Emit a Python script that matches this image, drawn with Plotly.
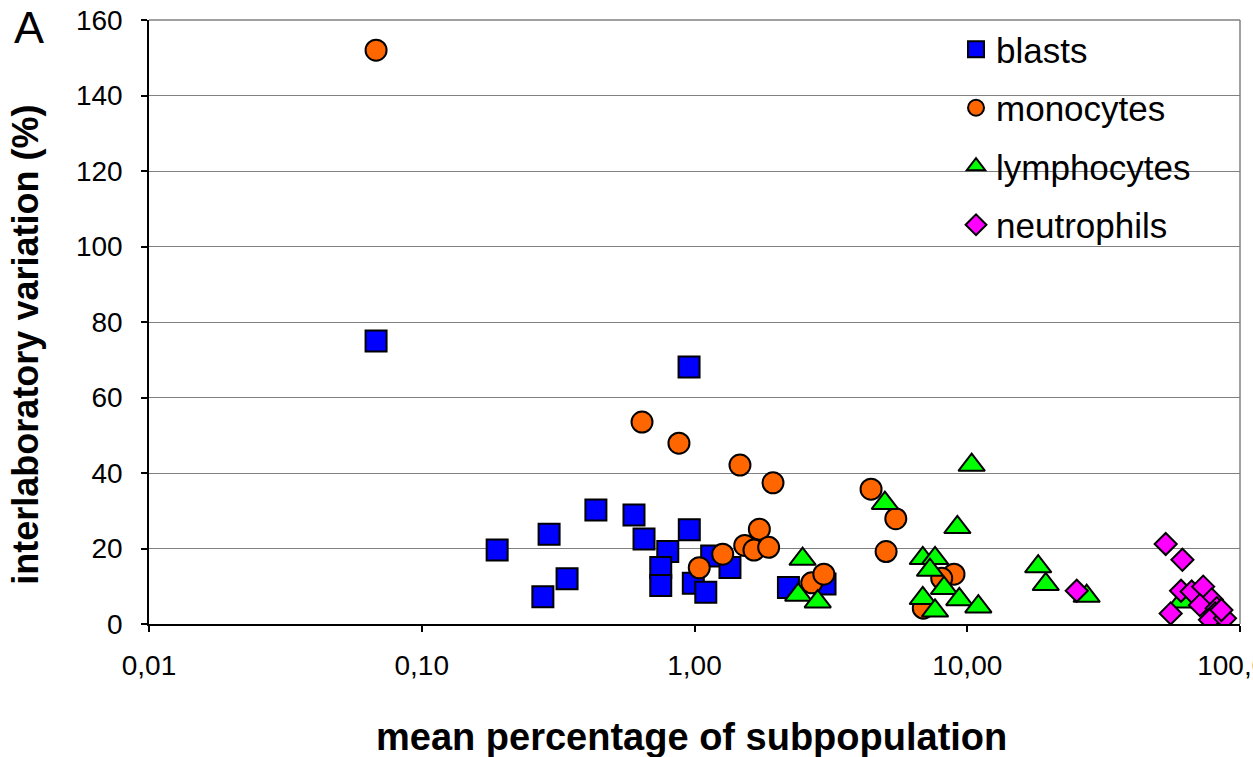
import plotly.graph_objects as go

# ---- data ----
blasts_x = [0.068, 0.955, 0.189, 0.293, 0.278, 0.341, 0.435, 0.600, 0.653, 0.957,
            0.798, 0.752, 0.752, 0.990, 1.10, 1.156, 1.349, 2.21, 3.01]
blasts_y = [75.0, 68.1, 19.6, 23.8, 7.2, 12.0, 30.2, 28.9, 22.5, 25.0,
            19.2, 15.0, 10.2, 10.8, 8.4, 18.0, 15.0, 9.7, 10.6]

monocytes_x = [0.068, 0.642, 0.877, 1.468, 1.94, 4.44, 5.47, 5.04, 1.729, 1.528,
               1.652, 1.87, 1.269, 1.041, 2.69, 2.98, 8.94, 8.06, 6.90]
monocytes_y = [152.0, 53.5, 47.9, 42.1, 37.4, 35.7, 27.9, 19.2, 25.1, 20.8,
               19.6, 20.3, 18.5, 14.9, 10.9, 13.2, 13.2, 12.1, 4.2]

lymphocytes_x = [10.38, 9.2, 4.99, 2.49, 2.40, 2.83, 6.87, 7.62, 7.30, 8.22,
                 6.87, 9.35, 7.62, 10.98, 18.2, 19.4, 27.4, 61.1]
lymphocytes_y = [42.1, 25.6, 32.0, 17.2, 7.7, 5.9, 17.4, 17.4, 14.3, 9.5,
                 6.8, 6.5, 3.5, 4.6, 15.2, 10.5, 7.4, 5.9]

neutrophils_x = [25.2, 53.4, 61.5, 55.7, 60.8, 66.5, 73.3, 78.8, 71.3, 82.2,
                 81.0, 77.6, 88.1, 85.5]
neutrophils_y = [8.8, 21.2, 17.0, 2.8, 8.8, 8.6, 9.9, 6.5, 5.0, 4.2,
                 2.8, 1.1, 1.5, 3.7]

x_tickvals = [0.01, 0.1, 1, 10, 100]
x_ticktext = ["0,01", "0,10", "1,00", "10,00", "100,00"]
y_tickvals = [0, 20, 40, 60, 80, 100, 120, 140, 160]

FONT = "Liberation Sans, Arial, sans-serif"

series = [
    ("blasts", blasts_x, blasts_y, "square", "#0000FF", 21),
    ("monocytes", monocytes_x, monocytes_y, "circle", "#FF6600", 21),
    ("lymphocytes", lymphocytes_x, lymphocytes_y, "triangle-up", "#00FF00", 23),
    ("neutrophils", neutrophils_x, neutrophils_y, "diamond", "#FF00FF", 17),
]

fig = go.Figure()
for name, xs, ys, sym, col, sz in series:
    fig.add_trace(go.Scatter(
        x=xs, y=ys, mode="markers", name=name, legendgroup=name,
        marker=dict(symbol=sym, color=col, size=sz,
                    line=dict(color="black", width=2)),
    ))

fig.update_layout(
    width=1253, height=757,
    margin=dict(l=149, r=13, t=20, b=133, autoexpand=False),
    paper_bgcolor="white", plot_bgcolor="white",
    font=dict(family=FONT, size=28, color="black"),
    showlegend=True,
    legend=dict(
        x=0.7397, xanchor="left", y=1.0, yanchor="top",
        bgcolor="rgba(255,255,255,0)", borderwidth=0,
        font=dict(family=FONT, size=35, color="black"),
        tracegroupgap=10, traceorder="grouped",
    ),
    xaxis=dict(
        type="log", range=[-2, 2],
        tickvals=x_tickvals, ticktext=x_ticktext,
        showgrid=False, zeroline=False, automargin=False,
        showline=True, linecolor="black", linewidth=1.5,
        ticks="outside", ticklen=6, tickcolor="black", tickwidth=1.5,
        ticklabelstandoff=10, ticklabeloverflow="allow",
        tickfont=dict(family=FONT, size=28, color="black"),
    ),
    yaxis=dict(
        range=[0, 160], tickvals=y_tickvals,
        showgrid=True, gridcolor="#808080", gridwidth=1,
        zeroline=False, automargin=False,
        showline=True, linecolor="black", linewidth=1.5,
        ticks="outside", ticklen=6, tickcolor="black", tickwidth=1.5,
        ticklabelstandoff=13,
        tickfont=dict(family=FONT, size=28, color="black"),
    ),
    shapes=[
        # white legend area covering gridlines
        dict(type="rect", xref="paper", yref="paper",
             x0=0.703, x1=0.997, y0=0.625, y1=0.997,
             fillcolor="white", line=dict(width=0), layer="between"),
        # gray top and right frame
        dict(type="line", xref="paper", yref="paper", x0=0, x1=1, y0=1, y1=1,
             line=dict(color="#808080", width=1.5), layer="above"),
        dict(type="line", xref="paper", yref="paper", x0=1, x1=1, y0=0, y1=1,
             line=dict(color="#808080", width=1.5), layer="above"),
    ],
    annotations=[
        dict(text="A", x=(29 - 149) / 1091, y=(624 - 28) / 604,
             xref="paper", yref="paper", xanchor="center", yanchor="middle",
             showarrow=False, font=dict(family=FONT, size=45, color="black")),
        dict(text="<b>mean percentage of subpopulation</b>",
             xref="paper", yref="paper", x=0.497, y=-0.187,
             xanchor="center", yanchor="middle", showarrow=False,
             font=dict(family=FONT, size=38, color="black")),
        dict(text="<b>interlaboratory variation (%)</b>",
             xref="paper", yref="paper", x=-0.113, y=0.462,
             xanchor="center", yanchor="middle", showarrow=False, textangle=-90,
             font=dict(family=FONT, size=36, color="black")),
    ],
)

fig.write_html("out.html")
